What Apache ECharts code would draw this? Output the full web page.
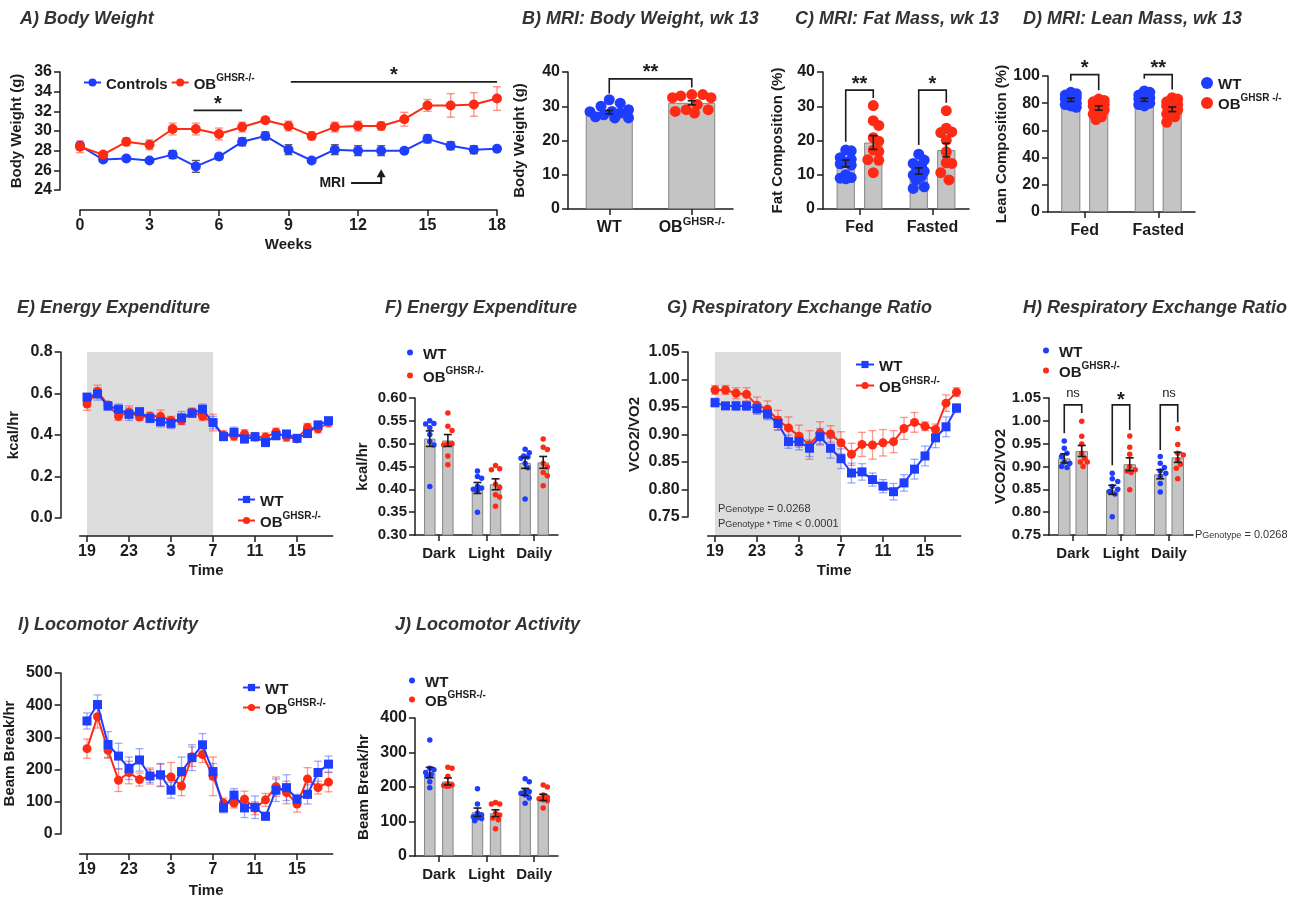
<!DOCTYPE html>
<html><head><meta charset="utf-8">
<script src="https://cdn.jsdelivr.net/npm/echarts@6/dist/echarts.min.js"></script>
<style>html,body{margin:0;padding:0;background:#fff}#c{width:1298px;height:899px}</style>
</head><body><div id="c"></div>
<script>
// ---------------- DATA ----------------
const weeks = [0,1,2,3,4,5,6,7,8,9,10,11,12,13,14,15,16,17,18];
const bwCtrlMean = [28.5,27.1,27.2,27.0,27.6,26.4,27.4,28.9,29.5,28.1,27.0,28.1,28.0,28.0,28.0,29.2,28.5,28.1,28.2];
const bwCtrlSem  = [0.3,0.2,0.2,0.2,0.4,0.6,0.3,0.4,0.4,0.5,0.2,0.5,0.5,0.5,0.2,0.4,0.4,0.4,0.2];
const bwObMean   = [28.4,27.6,28.9,28.6,30.2,30.2,29.7,30.4,31.1,30.5,29.5,30.4,30.5,30.5,31.2,32.6,32.6,32.7,33.3];
const bwObSem    = [0.6,0.2,0.4,0.5,0.6,0.6,0.6,0.5,0.3,0.5,0.4,0.5,0.5,0.4,0.7,0.6,1.2,1.2,1.2];

const mriCats = ['WT','OB^GHSR-/-'];
const mriBwMean = [28.3,31.0];
const mriBwSem  = [0.5,0.6];
const mriBwWT = [30.0,26.9,31.9,30.9,29.0,28.5,28.4,27.5,26.6,26.6,28.0];
const mriBwOB = [33.4,33.4,32.5,33.0,32.5,28.5,30.5,29.0,29.0,28.0];

const stateCats = ['Fed','Fasted'];
const fatMeanWT = [13.3,11.1], fatSemWT = [1.0,0.9];
const fatMeanOB = [19.4,17.2], fatSemOB = [2.0,2.0];
const fatFedWT  = [17.2,17.0,15.0,14.5,13.6,13.2,12.8,10.0,9.0,8.8,9.2];
const fatFedOB  = [30.2,25.8,24.4,20.8,19.8,17.2,16.8,14.4,14.2,10.6];
const fatFastWT = [16.0,14.3,13.3,12.8,12.3,11.0,9.9,9.5,8.5,6.5,6.0];
const fatFastOB = [28.7,23.6,22.3,22.5,20.1,16.7,13.3,13.5,10.6,8.5];

const leanMeanWT = [82.5,82.5], leanSemWT = [1.2,1.2];
const leanMeanOB = [76.5,75.5], leanSemOB = [1.6,1.7];
const leanFedWT  = [88,87,86,85,84,83,82,80,79,78,77];
const leanFedOB  = [83,82,81,80,79,78,77,75,72,70,68];
const leanFastWT = [89,88,86,85,84,83,81,80,79,78];
const leanFastOB = [84,83,81,80,79,78,76,75,72,70,66];

const hours = [19,20,21,22,23,0,1,2,3,4,5,6,7,8,9,10,11,12,13,14,15,16,17,18];
const eeWTMean = [0.582,0.598,0.540,0.524,0.500,0.512,0.480,0.464,0.456,0.483,0.505,0.524,0.460,0.392,0.413,0.381,0.392,0.364,0.397,0.405,0.384,0.407,0.448,0.469];
const eeWTSem  = [0.02,0.03,0.02,0.025,0.03,0.02,0.02,0.025,0.025,0.03,0.02,0.025,0.03,0.015,0.025,0.02,0.02,0.02,0.02,0.015,0.015,0.015,0.02,0.015];
const eeOBMean = [0.549,0.610,0.545,0.490,0.510,0.487,0.490,0.490,0.470,0.470,0.510,0.490,0.460,0.400,0.395,0.405,0.390,0.390,0.413,0.390,0.381,0.436,0.430,0.460];
const eeOBSem  = [0.03,0.03,0.015,0.02,0.03,0.015,0.02,0.03,0.02,0.02,0.02,0.02,0.04,0.02,0.02,0.02,0.015,0.02,0.02,0.02,0.015,0.02,0.02,0.02];

const periodCats = ['Dark','Light','Daily'];
const eeBarWT = [0.511,0.403,0.458], eeBarSemWT = [0.017,0.012,0.012];
const eeBarOB = [0.507,0.411,0.459], eeBarSemOB = [0.013,0.012,0.013];
const eeDarkWT  = [0.550,0.544,0.543,0.535,0.520,0.505,0.497,0.406];
const eeDarkOB  = [0.567,0.538,0.529,0.500,0.500,0.497,0.473,0.454];
const eeLightWT = [0.440,0.428,0.424,0.406,0.403,0.400,0.397,0.350];
const eeLightOB = [0.452,0.445,0.443,0.411,0.404,0.388,0.383,0.363];
const eeDailyWT = [0.488,0.480,0.473,0.471,0.468,0.457,0.447,0.379];
const eeDailyOB = [0.510,0.492,0.487,0.457,0.449,0.437,0.430,0.408];

const rerWTMean = [0.958,0.952,0.952,0.952,0.947,0.937,0.920,0.887,0.887,0.875,0.896,0.875,0.856,0.830,0.832,0.818,0.806,0.796,0.812,0.837,0.861,0.894,0.914,0.948];
const rerWTSem  = [0.008,0.006,0.008,0.008,0.01,0.01,0.012,0.012,0.015,0.015,0.015,0.018,0.018,0.018,0.015,0.012,0.012,0.015,0.015,0.018,0.018,0.018,0.018,0.008];
const rerOBMean = [0.981,0.981,0.975,0.973,0.953,0.946,0.926,0.912,0.897,0.881,0.903,0.901,0.885,0.864,0.882,0.881,0.885,0.887,0.911,0.922,0.915,0.909,0.957,0.977];
const rerOBSem  = [0.008,0.008,0.01,0.012,0.015,0.015,0.018,0.02,0.02,0.026,0.02,0.015,0.02,0.02,0.022,0.026,0.024,0.02,0.02,0.018,0.008,0.01,0.015,0.008];

const rerBarWT = [0.918,0.849,0.883], rerBarSemWT = [0.010,0.010,0.010];
const rerBarOB = [0.934,0.905,0.920], rerBarSemOB = [0.012,0.014,0.011];
const rerDarkWT  = [0.956,0.940,0.929,0.922,0.910,0.907,0.900,0.898];
const rerDarkOB  = [0.999,0.966,0.949,0.929,0.918,0.910,0.910,0.900];
const rerLightWT = [0.885,0.873,0.867,0.856,0.850,0.845,0.840,0.790];
const rerLightOB = [0.967,0.942,0.927,0.900,0.893,0.890,0.887,0.849];
const rerDailyWT = [0.922,0.907,0.898,0.890,0.885,0.878,0.863,0.844];
const rerDailyOB = [0.983,0.948,0.929,0.925,0.915,0.905,0.896,0.873];

const locWTMean = [351,402,278,242,204,230,180,184,136,194,237,277,194,81,121,81,83,55,136,144,108,123,191,217];
const locWTSem  = [25,30,40,40,35,35,20,35,25,45,40,35,25,15,20,30,35,12,35,40,15,30,35,25];
const locOBMean = [265,364,260,167,191,169,180,182,177,149,240,247,179,96,96,108,80,106,147,129,93,171,144,161];
const locOBSem  = [30,35,25,35,35,20,25,35,45,30,30,25,60,15,15,25,20,20,30,35,25,35,20,30];

const locBarWT = [242,127,186], locBarSemWT = [15,12,10];
const locBarOB = [216,124,170], locBarSemOB = [10,10,9];
const locDarkWT  = [336,254,250,242,236,231,215,198];
const locDarkOB  = [257,254,231,209,206,204,203,202];
const locLightWT = [195,151,124,119,114,111,109,102];
const locLightOB = [155,151,151,124,119,110,105,79];
const locDailyWT = [224,215,190,187,182,177,168,153];
const locDailyOB = [206,200,177,170,166,163,160,139];

const LBL_WT = 'WT', LBL_OB = 'OB^GHSR-/-', LBL_CTRL = 'Controls';

// ---------------- STYLE / HELPERS ----------------
const BLUE='#1f3dff', RED='#ff2a14', BARC='#c4c4c4', BARB='#858585', INK='#1c1c1c';
const FONT='"Liberation Sans", Arial, Helvetica, sans-serif';
const option = {animation:false, backgroundColor:'#ffffff', textStyle:{fontFamily:FONT},
  title:[], legend:[], grid:[], xAxis:[], yAxis:[], series:[]};

function deepMerge(a,b){ for(const k in b){ const v=b[k];
  if(v && typeof v==='object' && !Array.isArray(v)){ a[k]=deepMerge(a[k]&&typeof a[k]==='object'?a[k]:{}, v);} else a[k]=v; } return a; }
function richSet(fs){ return {
  n:{fontSize:fs,fontWeight:'bold',color:INK,fontFamily:FONT,lineHeight:fs+4,verticalAlign:'bottom'},
  s:{fontSize:Math.round(fs*0.68),fontWeight:'bold',color:INK,fontFamily:FONT,lineHeight:Math.round(fs*0.68),verticalAlign:'top'}}; }
function nameFmt(label){ const p=String(label).split('^'); return '{n|'+p[0]+'}'+(p[1]?'{s|'+p[1]+'}':''); }
function baseAxis(){ return {axisLine:{show:true,onZero:false,lineStyle:{color:INK,width:1.5}},
  axisTick:{show:true,length:6,lineStyle:{color:INK,width:1.5}},
  axisLabel:{color:INK,fontSize:16,fontWeight:'bold',fontFamily:FONT,margin:8},
  splitLine:{show:false}, nameTextStyle:{color:INK,fontSize:15,fontWeight:'bold',fontFamily:FONT}}; }
function addGrid(g){ option.grid.push(g); return option.grid.length-1; }
function addX(o){ option.xAxis.push(deepMerge(baseAxis(), o)); return option.xAxis.length-1; }
function addY(o){ option.yAxis.push(deepMerge(deepMerge(baseAxis(), {type:'value',nameLocation:'middle',nameRotate:90}), o)); return option.yAxis.length-1; }
function addTitle(text,left,top){ option.title.push({text,left,top,padding:0,
  textStyle:{fontSize:18,fontWeight:'bold',fontStyle:'italic',color:'#333',fontFamily:FONT}}); }
function addLegend(o){ option.legend.push(deepMerge({show:true,selectedMode:false,orient:'vertical',padding:0,itemGap:0,
  formatter:n=>nameFmt(n.split('|')[1]), textStyle:{fontFamily:FONT,rich:richSet(15)}}, o)); }
function pText(left,top,sub,rest,fs){
  option.title.push({left,top,padding:0,text:'{p|P}{b|'+sub+'}{p|'+rest+'}',
    textStyle:{fontWeight:'normal',fontSize:fs,color:'#333',fontFamily:FONT,
      rich:{p:{fontSize:fs,fontWeight:'normal',color:'#333',fontFamily:FONT,lineHeight:fs+4,verticalAlign:'bottom'},
            b:{fontSize:Math.round(fs*0.78),fontWeight:'normal',color:'#333',fontFamily:FONT,lineHeight:Math.round(fs*0.72),verticalAlign:'bottom'}}}});
}

function errSeries(xi,yi,pts,color,cap,lw,z){
  return {type:'custom',xAxisIndex:xi,yAxisIndex:yi,data:pts,encode:{x:0,y:[1,2]},z,silent:true,
    renderItem:(p,api)=>{ const x=api.value(0), a=api.coord([x,api.value(1)]), b=api.coord([x,api.value(2)]);
      const st={stroke:color,lineWidth:lw,fill:null};
      return {type:'group',children:[
        {type:'line',shape:{x1:a[0],y1:a[1],x2:b[0],y2:b[1]},style:st},
        {type:'line',shape:{x1:a[0]-cap,y1:a[1],x2:a[0]+cap,y2:a[1]},style:st},
        {type:'line',shape:{x1:b[0]-cap,y1:b[1],x2:b[0]+cap,y2:b[1]},style:st}]}; }};
}
function bracketSeries(xi,yi,items){
  return {type:'custom',xAxisIndex:xi,yAxisIndex:yi,data:items.map(b=>[b.x1,b.top]),encode:{x:0,y:1},z:10,silent:true,
    renderItem:(p,api)=>{ const b=items[p.dataIndex];
      const p1=api.coord([b.x1,b.leg1]),p2=api.coord([b.x1,b.top]),p3=api.coord([b.x2,b.top]),p4=api.coord([b.x2,b.leg2]);
      return {type:'group',children:[
        {type:'polyline',shape:{points:[p1,p2,p3,p4]},style:{stroke:INK,lineWidth:1.6,fill:null}},
        {type:'text',x:(p2[0]+p3[0])/2,y:p2[1]-b.lift,style:{text:b.label,fill:INK,font:b.font,align:'center',verticalAlign:'middle'}}]}; }};
}
// deterministic point spreading inside a bar (layout only)
function swarm(vals,pxX,pxY,d,halfW){
  const order=vals.map((v,i)=>i).sort((a,b)=>vals[b]-vals[a]); const placed=[]; const out=new Array(vals.length);
  const step=Math.max(1,d*0.25); const cands=[0];
  for(let k=1;k*step<=halfW+0.01;k++){cands.push(k*step,-k*step);}
  for(const i of order){ const y=vals[i]*pxY; let best=0,bestD=-1;
    for(const c of cands){ let md=Infinity; for(const p of placed){ md=Math.min(md,Math.hypot(p.x-c,p.y-y)); }
      if(md>=d*0.95){best=c;bestD=md;break;} if(md>bestD){bestD=md;best=c;} }
    placed.push({x:best,y}); out[i]=best/pxX; }
  return out;
}

// ---------------- PANEL A ----------------
addTitle('A) Body Weight',20,10);
(function(){
  const g=addGrid({left:80,top:72,width:417,height:118});
  const x=addX({gridIndex:g,type:'value',min:0,max:18,interval:3,offset:20,name:'Weeks',nameLocation:'middle',nameGap:27});
  const y=addY({gridIndex:g,min:24,max:36,interval:2,offset:20,name:'Body Weight (g)',nameGap:36});
  option.series.push(errSeries(x,y,weeks.map((w,i)=>[w,bwCtrlMean[i]-bwCtrlSem[i],bwCtrlMean[i]+bwCtrlSem[i]]),'#5a5a5a',4,1.4,2));
  option.series.push(errSeries(x,y,weeks.map((w,i)=>[w,bwObMean[i]-bwObSem[i],bwObMean[i]+bwObSem[i]]),'rgba(255,60,40,0.55)',4,1.4,2));
  option.series.push({type:'line',name:'A|'+LBL_CTRL,xAxisIndex:x,yAxisIndex:y,data:weeks.map((w,i)=>[w,bwCtrlMean[i]]),
    symbol:'circle',symbolSize:10,lineStyle:{color:BLUE,width:2},itemStyle:{color:BLUE},z:4,silent:true});
  option.series.push({type:'line',name:'A|'+LBL_OB,xAxisIndex:x,yAxisIndex:y,data:weeks.map((w,i)=>[w,bwObMean[i]]),
    symbol:'circle',symbolSize:10,lineStyle:{color:RED,width:2},itemStyle:{color:RED},z:4,silent:true});
  option.series.push(bracketSeries(x,y,[
    {x1:4.9,x2:7.0,top:32.1,leg1:32.1,leg2:32.1,label:'*',font:'bold 20px '+FONT,lift:6},
    {x1:9.1,x2:18,top:35.0,leg1:35.0,leg2:35.0,label:'*',font:'bold 20px '+FONT,lift:6}]));
  // MRI arrow
  option.series.push({type:'custom',xAxisIndex:x,yAxisIndex:y,data:[[13,24.7,26.1]],encode:{x:0,y:[1,2]},z:10,silent:true,
    renderItem:(p,api)=>{ const xm=api.value(0), a=api.coord([11.7,api.value(1)]), b=api.coord([xm,api.value(1)]), c=api.coord([xm,api.value(2)]);
      return {type:'group',children:[
        {type:'polyline',shape:{points:[a,b,[c[0],c[1]+7]]},style:{stroke:INK,lineWidth:2,fill:null}},
        {type:'polygon',shape:{points:[[c[0]-4.5,c[1]+8],[c[0]+4.5,c[1]+8],[c[0],c[1]]]},style:{fill:INK}},
        {type:'text',x:a[0]-6,y:a[1],style:{text:'MRI',font:'bold 14px '+FONT,fill:INK,align:'right',verticalAlign:'middle'}}]}; }});
  addLegend({orient:'horizontal',left:83,top:73,itemWidth:17,itemHeight:10,itemGap:3,data:['A|'+LBL_CTRL,'A|'+LBL_OB]});
})();

// ---------------- BAR PANEL HELPER ----------------
function barPanel(c){
  const g=addGrid({left:c.left,top:c.top,width:c.width,height:c.height});
  const n=c.cats.length;
  const xc=addX({gridIndex:g,type:'category',data:c.cats,position:'bottom',axisTick:{alignWithLabel:true,interval:0},
    axisLabel:{interval:0,formatter:v=>nameFmt(v),rich:richSet(c.catFont||16),margin:7}});
  const xv=addX({gridIndex:g,type:'value',min:0,max:n,show:false,position:'bottom'});
  const y=addY({gridIndex:g,min:c.ymin,max:c.ymax,interval:c.step,name:c.yname,nameGap:c.nameGap,
    axisLabel:{formatter:v=>(+v).toFixed(c.dec||0),fontSize:c.tickFont||16}});
  const ns=c.bars.length; const off=s=>(s-(ns-1)/2)*c.bw*(1+c.gap);
  c.bars.forEach((b,s)=>{
    option.series.push({type:'bar',xAxisIndex:xc,yAxisIndex:y,data:b.means,barWidth:(c.bw*100)+'%',barGap:(c.gap*100)+'%',
      itemStyle:{color:BARC,borderColor:BARB,borderWidth:1},z:2,silent:true});
  });
  const pxX=c.width/n, pxY=c.height/(c.ymax-c.ymin); const groups={};
  const halfW=Math.max(0,c.bw*pxX/2-c.dot*(c.edge==null?0.3:c.edge));
  c.dots.forEach(d=>{ const dx=swarm(d.vals,pxX,pxY,c.dot,halfW);
    const gr=(groups[d.label]=groups[d.label]||{color:d.color,pts:[]});
    d.vals.forEach((v,k)=>gr.pts.push([d.cat+0.5+off(d.s)+dx[k],v])); });
  for(const k in groups) option.series.push({type:'scatter',name:c.id+'|'+k,xAxisIndex:xv,yAxisIndex:y,data:groups[k].pts,
    symbol:'circle',symbolSize:c.dot,itemStyle:{color:groups[k].color,opacity:1},z:3,silent:true});
  c.bars.forEach((b,s)=>option.series.push(errSeries(xv,y,b.means.map((m,i)=>[i+0.5+off(s),m-b.sems[i],m+b.sems[i]]),INK,c.cap||4,1.6,5)));
  if(c.brackets) option.series.push(bracketSeries(xv,y,c.brackets.map(b=>({x1:b.c1+0.5+off(b.s1),x2:b.c2+0.5+off(b.s2),
    top:b.top,leg1:b.leg1,leg2:b.leg2,label:b.label,font:b.font||('bold 20px '+FONT),lift:b.lift==null?6:b.lift}))));
  return {g,xc,xv,y};
}

// ---------------- PANEL B ----------------
addTitle('B) MRI: Body Weight, wk 13',522,10);
barPanel({id:'B',left:568,top:72,width:165,height:137,cats:mriCats,ymin:0,ymax:40,step:10,yname:'Body Weight (g)',nameGap:41,
  bw:0.57,gap:0.3,dot:11,cap:4,edge:0.2,
  bars:[{means:mriBwMean,sems:mriBwSem}],
  dots:[{cat:0,s:0,vals:mriBwWT,color:BLUE,label:LBL_WT},{cat:1,s:0,vals:mriBwOB,color:RED,label:LBL_OB}],
  brackets:[{c1:0,s1:0,c2:1,s2:0,top:38,leg1:33.7,leg2:35.5,label:'**'}]});

// ---------------- PANEL C ----------------
addTitle('C) MRI: Fat Mass, wk 13',795,10);
barPanel({id:'C',left:823,top:72,width:146,height:137,cats:stateCats,ymin:0,ymax:40,step:10,yname:'Fat Composition (%)',nameGap:38,
  bw:0.25,gap:0.51,dot:11,cap:4,edge:0.3,
  bars:[{means:fatMeanWT,sems:fatSemWT},{means:fatMeanOB,sems:fatSemOB}],
  dots:[{cat:0,s:0,vals:fatFedWT,color:BLUE,label:LBL_WT},{cat:0,s:1,vals:fatFedOB,color:RED,label:LBL_OB},
        {cat:1,s:0,vals:fatFastWT,color:BLUE,label:LBL_WT},{cat:1,s:1,vals:fatFastOB,color:RED,label:LBL_OB}],
  brackets:[{c1:0,s1:0,c2:0,s2:1,top:34.7,leg1:19.6,leg2:32.4,label:'**'},{c1:1,s1:0,c2:1,s2:1,top:34.7,leg1:18.7,leg2:31,label:'*'}]});

// ---------------- PANEL D ----------------
addTitle('D) MRI: Lean Mass, wk 13',1023,10);
barPanel({id:'D',left:1048,top:76,width:147,height:136,cats:stateCats,ymin:0,ymax:100,step:20,yname:'Lean Composition (%)',nameGap:38,
  bw:0.26,gap:0.46,dot:11,cap:4,edge:0.3,
  bars:[{means:leanMeanWT,sems:leanSemWT},{means:leanMeanOB,sems:leanSemOB}],
  dots:[{cat:0,s:0,vals:leanFedWT,color:BLUE,label:LBL_WT},{cat:0,s:1,vals:leanFedOB,color:RED,label:LBL_OB},
        {cat:1,s:0,vals:leanFastWT,color:BLUE,label:LBL_WT},{cat:1,s:1,vals:leanFastOB,color:RED,label:LBL_OB}],
  brackets:[{c1:0,s1:0,c2:0,s2:1,top:101,leg1:96.5,leg2:89.5,label:'*'},{c1:1,s1:0,c2:1,s2:1,top:101,leg1:98,leg2:90,label:'**'}]});
addLegend({left:1201,top:77,itemWidth:12,itemHeight:12,itemGap:1,data:[{name:'D|'+LBL_WT,icon:'circle'},{name:'D|'+LBL_OB,icon:'circle'}],
  formatter:n=>n.endsWith('OB^GHSR-/-')?'{n|OB}{s|GHSR -/-}':nameFmt(n.split('|')[1])});

// ---------------- LINE PANEL HELPER ----------------
const tickIdx = hours.map((h,i)=>i).filter(i=>i%4===0);
function linePanel(c){
  const ppx=10.5;
  const g=addGrid({left:c.x0-0.7*ppx,top:c.top,width:24.1*ppx,height:c.height});
  const x=addX({gridIndex:g,type:'value',min:-0.7,max:23.4,offset:c.xoff,name:'Time',nameLocation:'middle',nameGap:c.xnameGap,
    axisTick:{customValues:tickIdx},axisLabel:{customValues:tickIdx,formatter:v=>String(hours[Math.round(v)])}});
  const y=addY({gridIndex:g,min:c.ymin,max:c.ymax,interval:c.step,offset:c.yoff,name:c.yname,nameGap:c.nameGap,
    axisLabel:{formatter:v=>(+v).toFixed(c.dec)}});
  if(c.shade){ const xo=c.xoff;
    option.series.push({type:'custom',xAxisIndex:x,yAxisIndex:y,data:[[c.shade[0],c.shade[1]]],encode:{x:[0,1]},z:0,silent:true,
      renderItem:(p,api)=>{ const a=api.coord([api.value(0),c.ymax]), b=api.coord([api.value(1),c.ymin]);
        return {type:'rect',shape:{x:a[0],y:a[1],width:b[0]-a[0],height:b[1]-a[1]+xo},style:{fill:'#dddddd'}}; }}); }
  c.groups.forEach(gr=>{
    option.series.push(errSeries(x,y,gr.mean.map((m,i)=>[i,m-gr.sem[i],m+gr.sem[i]]),gr.errColor,4,1.3,2));
  });
  c.groups.forEach(gr=>{
    option.series.push({type:'line',name:c.id+'|'+gr.label,xAxisIndex:x,yAxisIndex:y,data:gr.mean.map((m,i)=>[i,m]),
      symbol:gr.symbol,symbolSize:gr.size,lineStyle:{color:gr.color,width:2},itemStyle:{color:gr.color},z:gr.z,silent:true});
  });
  return {g,x,y};
}
const grpWT=(mean,sem)=>({label:LBL_WT,mean,sem,color:BLUE,errColor:'rgba(40,70,255,0.45)',symbol:'rect',size:9,z:4});
const grpOB=(mean,sem)=>({label:LBL_OB,mean,sem,color:RED,errColor:'rgba(255,50,30,0.5)',symbol:'circle',size:9,z:3});

// ---------------- PANEL E ----------------
addTitle('E) Energy Expenditure',17,299);
linePanel({id:'E',x0:87,top:352,height:166,xoff:18,yoff:19,ymin:0,ymax:0.8,step:0.2,dec:1,yname:'kcal/hr',nameGap:39,xnameGap:27,
  shade:[0,12],groups:[grpOB(eeOBMean,eeOBSem),grpWT(eeWTMean,eeWTSem)]});
addLegend({left:237,top:494,itemWidth:17,itemHeight:9,itemGap:2,data:['E|'+LBL_WT,'E|'+LBL_OB]});

// ---------------- PANEL F ----------------
addTitle('F) Energy Expenditure',385,299);
barPanel({id:'F',left:415,top:398,width:143,height:137,cats:periodCats,ymin:0.3,ymax:0.6,step:0.05,dec:2,yname:'kcal/hr',nameGap:45,
  bw:0.24,gap:0.58,dot:5.5,cap:4,edge:0.1,tickFont:15,catFont:15,
  bars:[{means:eeBarWT,sems:eeBarSemWT},{means:eeBarOB,sems:eeBarSemOB}],
  dots:[{cat:0,s:0,vals:eeDarkWT,color:BLUE,label:LBL_WT},{cat:0,s:1,vals:eeDarkOB,color:RED,label:LBL_OB},
        {cat:1,s:0,vals:eeLightWT,color:BLUE,label:LBL_WT},{cat:1,s:1,vals:eeLightOB,color:RED,label:LBL_OB},
        {cat:2,s:0,vals:eeDailyWT,color:BLUE,label:LBL_WT},{cat:2,s:1,vals:eeDailyOB,color:RED,label:LBL_OB}]});
addLegend({left:407,top:347,itemWidth:16,itemHeight:6,itemGap:4,data:[{name:'F|'+LBL_WT,icon:'circle'},{name:'F|'+LBL_OB,icon:'circle'}]});

// ---------------- PANEL G ----------------
addTitle('G) Respiratory Exchange Ratio',667,299);
linePanel({id:'G',x0:715,top:352,height:165,xoff:19,yoff:20,ymin:0.75,ymax:1.05,step:0.05,dec:2,yname:'VCO2/VO2',nameGap:45,xnameGap:27,
  shade:[0,12],groups:[grpOB(rerOBMean,rerOBSem),grpWT(rerWTMean,rerWTSem)]});
addLegend({left:855,top:359,itemWidth:18,itemHeight:9,itemGap:2,data:['G|'+LBL_WT,'G|'+LBL_OB]});
pText(718,499,'Genotype',' = 0.0268',11);
pText(718,514,'Genotype * Time',' < 0.0001',11);

// ---------------- PANEL H ----------------
addTitle('H) Respiratory Exchange Ratio',1023,299);
barPanel({id:'H',left:1049,top:398,width:144,height:137,cats:periodCats,ymin:0.75,ymax:1.05,step:0.05,dec:2,yname:'VCO2/VO2',nameGap:39,
  bw:0.26,gap:0.4,dot:5.5,cap:4,edge:0.1,tickFont:15,catFont:15,
  bars:[{means:rerBarWT,sems:rerBarSemWT},{means:rerBarOB,sems:rerBarSemOB}],
  dots:[{cat:0,s:0,vals:rerDarkWT,color:BLUE,label:LBL_WT},{cat:0,s:1,vals:rerDarkOB,color:RED,label:LBL_OB},
        {cat:1,s:0,vals:rerLightWT,color:BLUE,label:LBL_WT},{cat:1,s:1,vals:rerLightOB,color:RED,label:LBL_OB},
        {cat:2,s:0,vals:rerDailyWT,color:BLUE,label:LBL_WT},{cat:2,s:1,vals:rerDailyOB,color:RED,label:LBL_OB}],
  brackets:[{c1:0,s1:0,c2:0,s2:1,top:1.035,leg1:0.973,leg2:1.017,label:'ns',font:'13px '+FONT,lift:11},
            {c1:1,s1:0,c2:1,s2:1,top:1.035,leg1:0.903,leg2:0.98,label:'*',font:'bold 20px '+FONT,lift:4},
            {c1:2,s1:0,c2:2,s2:1,top:1.035,leg1:0.936,leg2:0.997,label:'ns',font:'13px '+FONT,lift:11}]});
addLegend({left:1043,top:345,itemWidth:16,itemHeight:6,itemGap:1,data:[{name:'H|'+LBL_WT,icon:'circle'},{name:'H|'+LBL_OB,icon:'circle'}]});
pText(1195,525,'Genotype',' = 0.0268',11);

// ---------------- PANEL I ----------------
addTitle('I) Locomotor Activity',18,616);
linePanel({id:'I',x0:87,top:673,height:164,xoff:20,yoff:19,ymin:0,ymax:500,step:100,dec:0,yname:'Beam Break/hr',nameGap:43,xnameGap:29,
  groups:[grpOB(locOBMean,locOBSem),grpWT(locWTMean,locWTSem)]});
addLegend({left:242,top:682,itemWidth:17,itemHeight:9,itemGap:1,data:['I|'+LBL_WT,'I|'+LBL_OB]});

// ---------------- PANEL J ----------------
addTitle('J) Locomotor Activity',395,616);
barPanel({id:'J',left:415,top:718,width:143,height:138,cats:periodCats,ymin:0,ymax:400,step:100,dec:0,yname:'Beam Break/hr',nameGap:44,
  bw:0.24,gap:0.58,dot:5.5,cap:4,edge:0.1,tickFont:16,catFont:15,
  bars:[{means:locBarWT,sems:locBarSemWT},{means:locBarOB,sems:locBarSemOB}],
  dots:[{cat:0,s:0,vals:locDarkWT,color:BLUE,label:LBL_WT},{cat:0,s:1,vals:locDarkOB,color:RED,label:LBL_OB},
        {cat:1,s:0,vals:locLightWT,color:BLUE,label:LBL_WT},{cat:1,s:1,vals:locLightOB,color:RED,label:LBL_OB},
        {cat:2,s:0,vals:locDailyWT,color:BLUE,label:LBL_WT},{cat:2,s:1,vals:locDailyOB,color:RED,label:LBL_OB}]});
addLegend({left:409,top:675,itemWidth:16,itemHeight:6,itemGap:0,data:[{name:'J|'+LBL_WT,icon:'circle'},{name:'J|'+LBL_OB,icon:'circle'}]});

const chart = echarts.init(document.getElementById('c'), null, {renderer:'canvas', width:1298, height:899});
chart.setOption(option);
</script></body></html>
